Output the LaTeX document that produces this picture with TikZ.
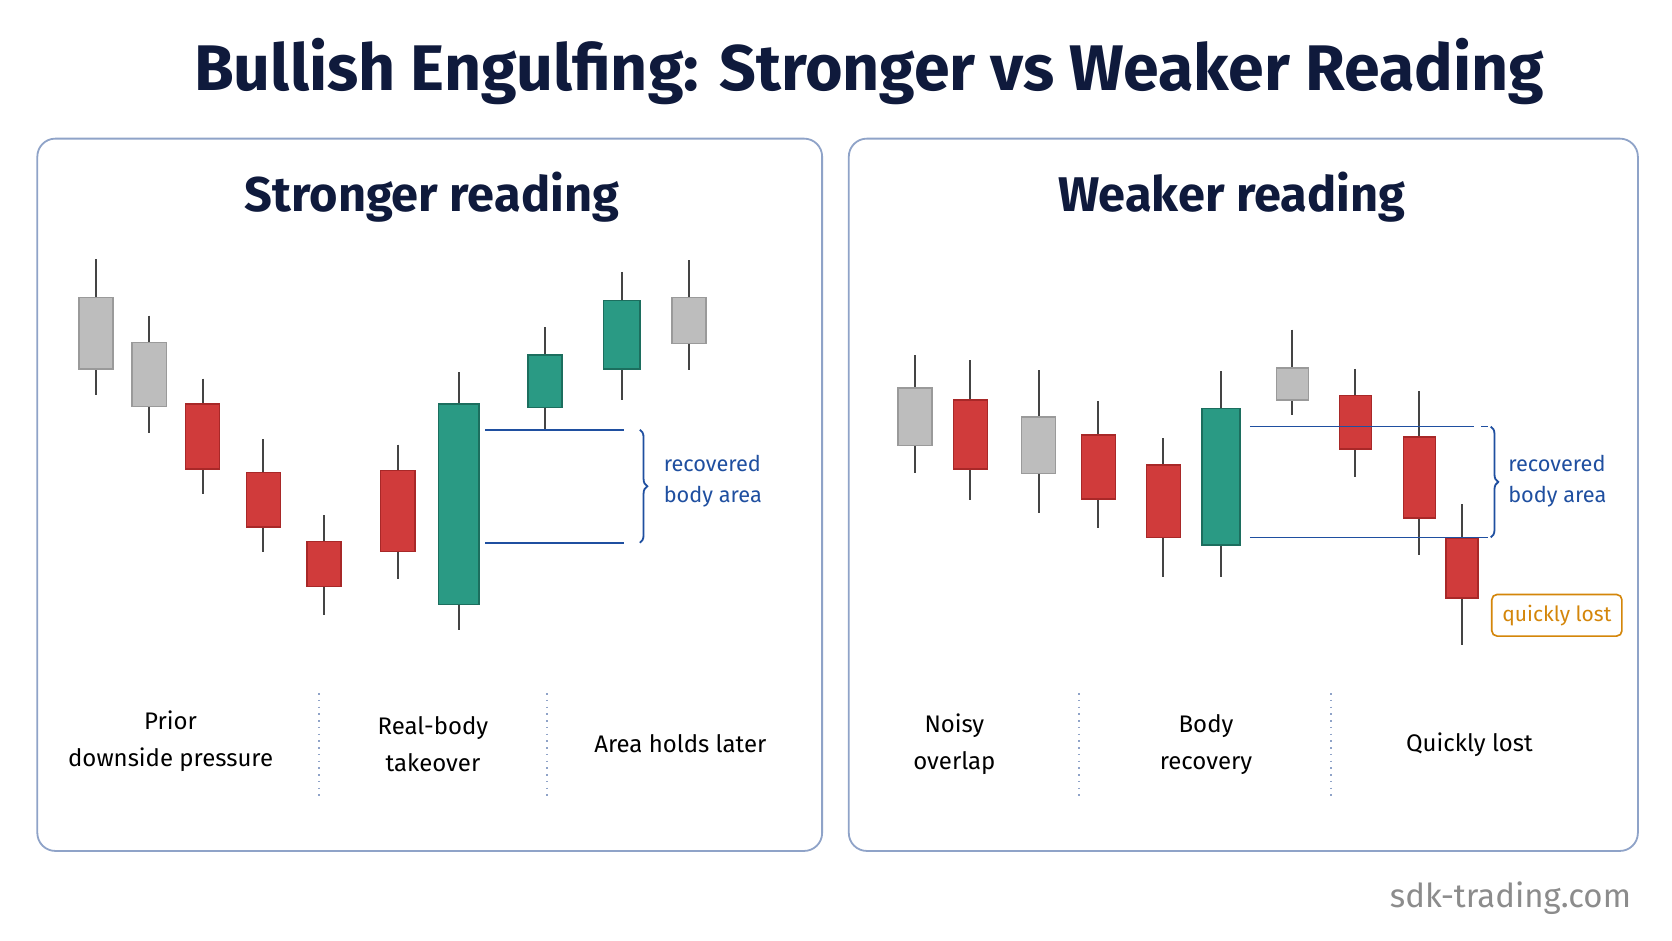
\documentclass[tikz,border=0pt]{standalone}
\usepackage{fontspec}
\setmainfont{Fira Sans}
\usetikzlibrary{decorations.pathreplacing}
\definecolor{navy}{HTML}{0F1A3C}
\definecolor{panelb}{HTML}{8FA3C8}
\definecolor{cgray}{HTML}{BDBDBD}
\definecolor{cgrayd}{HTML}{9A9A9A}
\definecolor{cred}{HTML}{D03B3B}
\definecolor{credd}{HTML}{A82828}
\definecolor{cgreen}{HTML}{2A9A84}
\definecolor{cgreend}{HTML}{1C6E5E}
\definecolor{lblue}{HTML}{1F4FA0}
\definecolor{orng}{HTML}{D4860A}
\definecolor{wick}{HTML}{444444}
\begin{document}
\begin{tikzpicture}[x=0.05cm,y=-0.05cm,
 panel/.style={draw=panelb,line width=2.4pt,rounded corners=24pt},
 lbl/.style={font=\fontsize{32}{50}\selectfont,text=black,align=center},
 divl/.style={draw=panelb,dash pattern=on 2pt off 7pt,line width=2.2pt},
 lev/.style={draw=lblue,line width=2.4pt},
 bl/.style={font=\fontsize{29}{42}\selectfont,text=lblue,align=left,anchor=west}]
\useasboundingbox (0,0) rectangle (1568,882);
\fill[white] (0,0) rectangle (1568,882);
\newcommand{\cdl}[7]{% x, wt, bt, bb, wb, fill, halfwidth
 \draw[wick,line width=2.6pt] (#1,#2) -- (#1,#5);
 \filldraw[fill=#6,draw=#6d,line width=2pt] (#1-#7,#3) rectangle (#1+#7,#4);}
\node[font=\bfseries\fontsize{86}{100}\selectfont,text=navy] (title) at (815,67) {Bullish Engulfing: Stronger vs Weaker Reading};
\draw[panel] (35,130) rectangle (771,798);
\draw[panel] (796,130) rectangle (1536,798);
\node[font=\bfseries\fontsize{65}{76}\selectfont,text=navy] (st) at (405,185) {Stronger reading};
\node[font=\bfseries\fontsize{65}{76}\selectfont,text=navy] (wt) at (1155,185) {Weaker reading};
% left candles
\cdl{90}{243}{279}{346}{370}{cgray}{16}
\cdl{140}{296}{321}{381}{406}{cgray}{16}
\cdl{190}{355}{379}{440}{463}{cred}{16}
\cdl{247}{412}{443}{494}{518}{cred}{16}
\cdl{304}{483}{508}{550}{577}{cred}{16}
\cdl{373}{417}{441}{517}{543}{cred}{16}
\cdl{430}{349}{379}{567}{591}{cgreen}{19}
\cdl{511}{307}{333}{382}{402}{cgreen}{16}
\cdl{583}{255}{282}{346}{375}{cgreen}{17}
\cdl{646}{244}{279}{322}{347}{cgray}{16}
\coordinate (a1) at (455,403); \coordinate (a2) at (585,403);
\coordinate (b1) at (455,509); \coordinate (b2) at (585,509);
\draw[lev] (a1) -- (a2); \draw[lev] (b1) -- (b2);
\coordinate (bt1) at (600,403); \coordinate (bb1) at (600,509);
\draw[lev,decorate,decoration={brace,amplitude=10pt}] (bt1) -- (bb1);
\node[bl] (rb1) at (620,451) {recovered\\body area};
\node[lbl] (l1) at (160,695) {Prior\\downside pressure};
\node[lbl] (l2) at (406,698) {Real-body\\takeover};
\node[lbl] (l3) at (638,697) {Area holds later};
\coordinate (d1t) at (299,650); \coordinate (d1b) at (299,748);
\coordinate (d2t) at (513,650); \coordinate (d2b) at (513,748);
\draw[divl] (d1t) -- (d1b); \draw[divl] (d2t) -- (d2b);
% right candles
\cdl{858}{333}{364}{418}{444}{cgray}{16}
\cdl{910}{338}{375}{440}{469}{cred}{16}
\cdl{974}{347}{391}{444}{481}{cgray}{16}
\cdl{1030}{376}{408}{468}{495}{cred}{16}
\cdl{1091}{411}{436}{504}{541}{cred}{16}
\cdl{1145}{348}{383}{511}{541}{cgreen}{18}
\cdl{1212}{309}{345}{375}{389}{cgray}{15}
\cdl{1271}{346}{371}{421}{447}{cred}{15}
\cdl{1331}{367}{410}{486}{520}{cred}{15}
\cdl{1371}{473}{505}{561}{605}{cred}{15}
\coordinate (c1) at (1172,400); \coordinate (c2) at (1368,400); \coordinate (c3) at (1395,400);
\coordinate (e1) at (1172,504); \coordinate (e2) at (1395,504);
\draw[lev] (c1) -- (c2); \draw[lev,dash pattern=on 20pt off 10pt] (c2) -- (c3);
\draw[lev] (e1) -- (e2);
\coordinate (bt2) at (1398,400); \coordinate (bb2) at (1398,504);
\draw[lev,decorate,decoration={brace,amplitude=10pt}] (bt2) -- (bb2);
\node[bl] (rb2) at (1412,451) {recovered\\body area};
\node[draw=orng,line width=2.2pt,rounded corners=7pt,fill=white,text=orng,font=\fontsize{28}{34}\selectfont,minimum width=122*0.05cm,minimum height=39*0.05cm,inner sep=2pt] (ql) at (1460,577) {quickly lost};
\node[lbl] (r1) at (895,698) {Noisy\\overlap};
\node[lbl] (r2) at (1131,698) {Body\\recovery};
\node[lbl] (r3) at (1378,698) {Quickly lost};
\coordinate (d3t) at (1012,650); \coordinate (d3b) at (1012,748);
\coordinate (d4t) at (1248,650); \coordinate (d4b) at (1248,748);
\draw[divl] (d3t) -- (d3b); \draw[divl] (d4t) -- (d4b);
\node[anchor=east,text=gray!90,font=\fontsize{44}{52}\selectfont] (wm) at (1532,842) {sdk-trading.com};
\end{tikzpicture}
\end{document}
